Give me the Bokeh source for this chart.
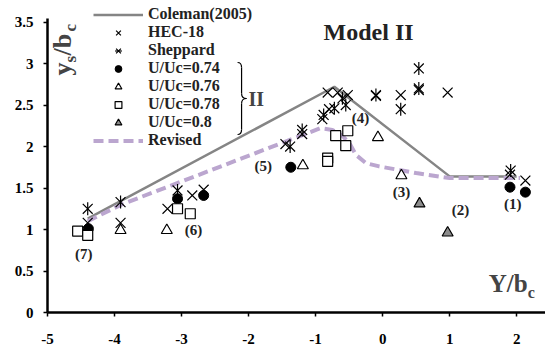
from bokeh.plotting import figure
from bokeh.models import Legend, LegendItem, Label, FixedTicker, NumeralTickFormatter
from bokeh.embed import file_html
from bokeh.resources import INLINE
import math

# ---------------- data ----------------
coleman_x = [-4.4, -0.72, 1.0, 2.0]
coleman_y = [1.13, 2.72, 1.64, 1.64]

revised_x = [-4.4, -3.9, -0.93, -0.75, -0.6, -0.48, -0.4, -0.25, -0.05, 0.5, 1.0, 2.05]
revised_y = [1.10, 1.30, 2.22, 2.20, 2.13, 2.02, 1.90, 1.80, 1.76, 1.68, 1.62, 1.62]

hec_x = [-4.40, -3.91, -3.21, -2.84, -2.67, -1.45, -1.20, -0.90, -0.80, -0.82, -0.67, -0.52, -0.10, 0.27, 0.54, 0.97, 1.90, 2.13]
hec_y = [1.08, 1.08, 1.25, 1.41, 1.48, 2.03, 2.15, 2.33, 2.45, 2.65, 2.65, 2.62, 2.61, 2.62, 2.68, 2.65, 1.66, 1.59]

shep_x = [-4.40, -3.91, -3.06, -1.38, -1.20, -0.88, -0.72, -0.55, -0.60, -0.10, 0.27, 0.54, 0.54, 1.91]
shep_y = [1.25, 1.33, 1.47, 2.00, 2.20, 2.38, 2.46, 2.50, 2.58, 2.62, 2.45, 2.94, 2.70, 1.71]

u074_x = [-4.39, -3.06, -2.67, -1.37, 1.90, 2.13]
u074_y = [1.01, 1.37, 1.41, 1.75, 1.51, 1.45]

u076_x = [-3.91, -3.22, -1.19, -0.07, 0.28]
u076_y = [0.99, 0.99, 1.77, 2.11, 1.65]

u078_x = [-4.55, -4.40, -3.06, -2.87, -0.82, -0.82, -0.70, -0.52, -0.55]
u078_y = [0.98, 0.93, 1.25, 1.19, 1.86, 1.82, 2.13, 2.19, 2.01]

u080_x = [0.55, 0.97]
u080_y = [1.31, 0.96]

group_labels = ["(1)", "(2)", "(3)", "(4)", "(5)", "(6)", "(7)"]
group_label_x = [1.94, 1.16, 0.28, -0.33, -1.78, -2.82, -4.46]
group_label_y = [1.31, 1.23, 1.45, 2.34, 1.77, 0.99, 0.71]

x_ticks = [-5, -4, -3, -2, -1, 0, 1, 2]
y_ticks = [0, 0.5, 1, 1.5, 2, 2.5, 3, 3.5]

# ---------------- figure ----------------
FONT = "Liberation Serif"
p = figure(width=545, height=350, x_range=(-5, 2.43), y_range=(0, 3.735),
           output_backend="svg", toolbar_location=None,
           min_border_left=47, min_border_right=0, min_border_top=2, min_border_bottom=38)
p.outline_line_color = None
p.xgrid.visible = False
p.ygrid.visible = False
p.background_fill_color = "white"

for ax in (p.xaxis[0], p.yaxis[0]):
    ax.axis_line_width = 2.5
    ax.axis_line_color = "black"
    ax.major_tick_line_width = 1.5
    ax.major_tick_out = 4
    ax.major_tick_in = 0
    ax.minor_tick_line_color = None
    ax.major_label_text_font = FONT
    ax.major_label_text_font_style = "bold"
    ax.major_label_text_font_size = "15px"
    ax.major_label_text_color = "black"

p.yaxis.bounds = (0, 3.54)
p.xaxis.ticker = FixedTicker(ticks=x_ticks)
p.yaxis.ticker = FixedTicker(ticks=y_ticks)
p.xaxis.formatter = NumeralTickFormatter(format="0")
p.yaxis.formatter = NumeralTickFormatter(format="0.[0]")
p.xaxis.major_label_standoff = 17
p.yaxis.major_label_standoff = 10

# lines
r_col = p.line(coleman_x, coleman_y, line_color="#858585", line_width=2.5)
r_rev = p.line(revised_x, revised_y, line_color="#bba6cf", line_width=4, line_dash="10 5")

# markers
r_hec = p.scatter(hec_x, hec_y, marker="x", size=14, line_color="black", line_width=1.2)
r_shep1 = p.scatter(shep_x, shep_y, marker="x", size=14, line_color="black", line_width=1.2)
r_shep2 = p.scatter(shep_x, shep_y, marker="dash", angle=math.pi / 2, size=13, line_color="black", line_width=1.2)
r_074 = p.scatter(u074_x, u074_y, marker="circle", size=10, fill_color="black", line_color="black")
r_076 = p.scatter(u076_x, u076_y, marker="triangle", size=11, fill_color="white", line_color="black", line_width=1.2)
r_078 = p.scatter(u078_x, u078_y, marker="square", size=10, fill_color="white", line_color="black", line_width=1.2)
r_080 = p.scatter(u080_x, u080_y, marker="triangle", size=11, fill_color="#8c8c8c", line_color="black", line_width=1.2)

# group labels
for t, gx, gy in zip(group_labels, group_label_x, group_label_y):
    p.add_layout(Label(x=gx, y=gy, text=t, text_font=FONT, text_font_style="bold",
                       text_font_size="15px", text_align="center", text_baseline="middle",
                       text_color="#222222"))

# legend
legend = Legend(items=[
    LegendItem(label="Coleman(2005)", renderers=[r_col]),
    LegendItem(label="HEC-18", renderers=[r_hec]),
    LegendItem(label="Sheppard", renderers=[r_shep1, r_shep2]),
    LegendItem(label="U/Uc=0.74", renderers=[r_074]),
    LegendItem(label="U/Uc=0.76", renderers=[r_076]),
    LegendItem(label="U/Uc=0.78", renderers=[r_078]),
    LegendItem(label="U/Uc=0.8", renderers=[r_080]),
    LegendItem(label="Revised", renderers=[r_rev]),
])
legend.location = (46, 163)
legend.border_line_color = None
legend.background_fill_alpha = 0
legend.padding = 0
legend.margin = 0
legend.spacing = 0
legend.glyph_width = 50
legend.glyph_height = 17
legend.label_height = 17
legend.label_standoff = 5
legend.label_text_font = FONT
legend.label_text_font_style = "bold"
legend.label_text_font_size = "16px"
legend.label_text_line_height = 1.0
legend.label_text_color = "#222222"
p.add_layout(legend)


# helper to convert layout pixel positions to data space for decorations
def px2x(px):
    return (px - 47) / 67.0 - 5


def px2y(py):
    return (312 - py) / 83.0


# brace "}" next to the U/Uc entries
bx0, bx1, bxt = 237, 241, 246
by0, bym, by1 = 62, 98, 134
p.quadratic(x0=[px2x(bx0)], y0=[px2y(by0)], x1=[px2x(bx1)], y1=[px2y(by0 + 5)],
            cx=[px2x(bx1)], cy=[px2y(by0)], line_color="black", line_width=1.2)
p.segment(x0=[px2x(bx1)], y0=[px2y(by0 + 5)], x1=[px2x(bx1)], y1=[px2y(bym - 5)],
          line_color="black", line_width=1.2)
p.quadratic(x0=[px2x(bx1)], y0=[px2y(bym - 5)], x1=[px2x(bxt)], y1=[px2y(bym)],
            cx=[px2x(bx1)], cy=[px2y(bym)], line_color="black", line_width=1.2)
p.quadratic(x0=[px2x(bxt)], y0=[px2y(bym)], x1=[px2x(bx1)], y1=[px2y(bym + 5)],
            cx=[px2x(bx1)], cy=[px2y(bym)], line_color="black", line_width=1.2)
p.segment(x0=[px2x(bx1)], y0=[px2y(bym + 5)], x1=[px2x(bx1)], y1=[px2y(by1 - 5)],
          line_color="black", line_width=1.2)
p.quadratic(x0=[px2x(bx1)], y0=[px2y(by1 - 5)], x1=[px2x(bx0)], y1=[px2y(by1)],
            cx=[px2x(bx1)], cy=[px2y(by1)], line_color="black", line_width=1.2)

p.add_layout(Label(x=px2x(248), y=px2y(98), text="II", text_font=FONT, text_font_style="bold",
                   text_font_size="20px", text_baseline="middle", text_align="left"))

# title inside plot
p.add_layout(Label(x=px2x(368), y=px2y(31), text="Model II", text_font=FONT, text_font_style="bold",
                   text_font_size="24px", text_baseline="middle", text_align="center", text_color="#222222"))

# x axis title: Y/b_c
p.add_layout(Label(x=px2x(488), y=px2y(283), text="Y/b", text_font=FONT, text_font_style="bold",
                   text_font_size="25px", text_baseline="middle", text_align="left"))
p.add_layout(Label(x=px2x(527), y=px2y(292), text="c", text_font=FONT, text_font_style="bold",
                   text_font_size="16px", text_baseline="middle", text_align="left"))

# y axis title: y_s/b_c (rotated)
rot = math.pi / 2
p.add_layout(Label(x=px2x(62), y=px2y(75), text="y", angle=rot, text_font=FONT, text_font_style="bold",
                   text_font_size="26px", text_baseline="middle", text_align="left"))
p.add_layout(Label(x=px2x(70), y=px2y(62), text="s", angle=rot, text_font=FONT, text_font_style="bold",
                   text_font_size="17px", text_baseline="middle", text_align="left"))
p.add_layout(Label(x=px2x(62), y=px2y(55), text="/b", angle=rot, text_font=FONT, text_font_style="bold",
                   text_font_size="26px", text_baseline="middle", text_align="left"))
p.add_layout(Label(x=px2x(70), y=px2y(31), text="c", angle=rot, text_font=FONT, text_font_style="bold",
                   text_font_size="17px", text_baseline="middle", text_align="left"))

open("out.html", "w").write(file_html(p, INLINE))
